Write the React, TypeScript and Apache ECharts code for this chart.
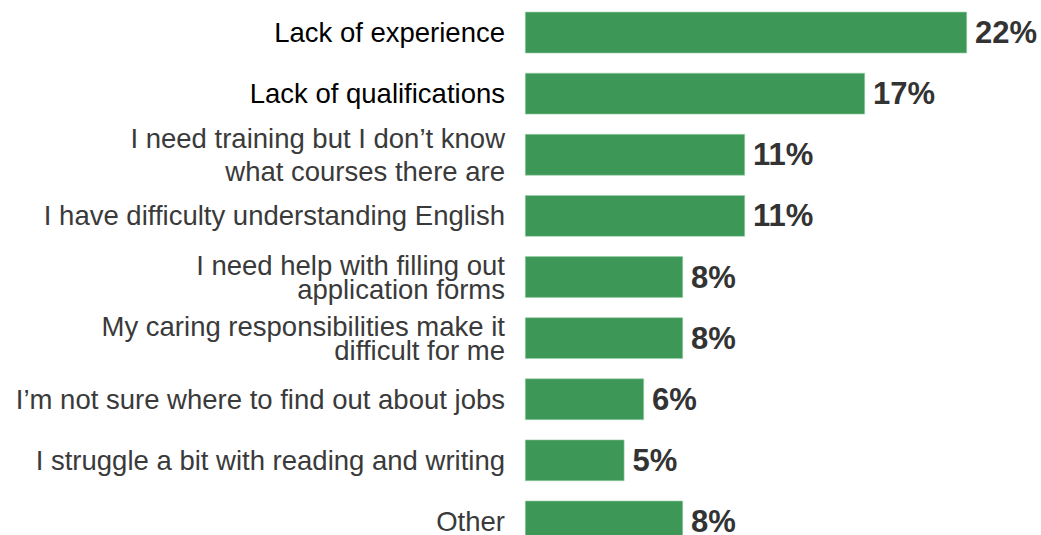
import React, { useEffect, useRef } from "react";
import * as echarts from "echarts";

const categories = [
  "Lack of experience",
  "Lack of qualifications",
  "I need training but I don\u2019t know\nwhat courses there are",
  "I have difficulty understanding English",
  "I need help with filling out\napplication forms",
  "My caring responsibilities make it\ndifficult for me",
  "I\u2019m not sure where to find out about jobs",
  "I struggle a bit with reading and writing",
  "Other",
];
const values = [22.1, 17.0, 11.0, 11.0, 7.9, 7.9, 5.95, 4.97, 7.9];
const labelColors = ["#000000", "#000000", "#3a3a3a", "#3a3a3a", "#3a3a3a", "#3a3a3a", "#3a3a3a", "#3a3a3a", "#3a3a3a"];
const labelLineHeights = [30, 30, 33, 30, 24, 24, 30, 30, 30];

export default function App() {
  const ref = useRef<HTMLDivElement>(null);
  useEffect(() => {
    if (!ref.current) return;
    const chart = echarts.init(ref.current, undefined, { renderer: "svg" });
    const font = "'Liberation Sans', Arial, Helvetica, sans-serif";
    chart.setOption({
      animation: false,
      grid: { left: 525, top: 2, width: 500, height: 550, containLabel: false },
      xAxis: {
        type: "value",
        min: 0,
        max: 25,
        show: false,
      },
      yAxis: {
        type: "category",
        inverse: true,
        data: categories.map((c, i) => ({
          value: c,
          textStyle: { color: labelColors[i], lineHeight: labelLineHeights[i] },
        })),
        axisLine: { show: false },
        axisTick: { show: false },
        splitLine: { show: false },
        axisLabel: {
          margin: 20,
          fontSize: 27.5,
          fontFamily: font,
          align: "right",
        },
      },
      series: [
        {
          type: "bar",
          data: values,
          barWidth: 41.5,
          itemStyle: { color: "#3d9857", borderColor: "#9ccfaa", borderWidth: 0.6 },
          label: {
            show: true,
            position: "right",
            distance: 8,
            formatter: (p: any) => Math.round(p.value) + "%",
            fontSize: 31,
            fontWeight: "bold",
            color: "#333333",
            fontFamily: font,
          },
        },
      ],
    });
    return () => chart.dispose();
  }, []);
  return (
    <div
      ref={ref}
      style={{ position: "fixed", left: 0, top: 0, width: 1041, height: 560, background: "#fff" }}
    />
  );
}
